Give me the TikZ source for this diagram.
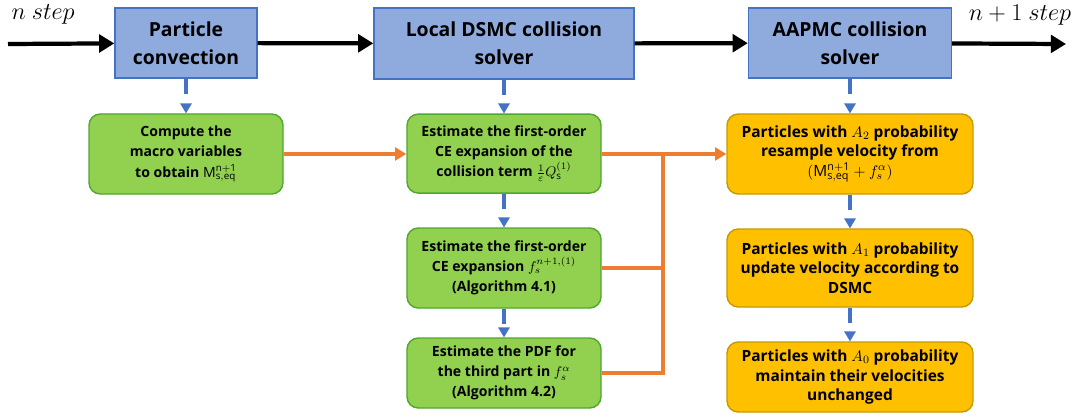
\documentclass[tikz,border=0pt]{standalone}
\usepackage{fontspec}
\setmainfont{Open Sans}
\usetikzlibrary{arrows.meta}
\definecolor{boxblue}{HTML}{8FAADC}
\definecolor{lineblue}{HTML}{4472C4}
\definecolor{boxgreen}{HTML}{92D050}
\definecolor{edgegreen}{HTML}{4EA72E}
\definecolor{boxgold}{HTML}{FFC000}
\definecolor{edgegold}{HTML}{C49A00}
\definecolor{lineorange}{HTML}{ED7D31}
\begin{document}
\begin{tikzpicture}[
    solverbox/.style={draw=lineblue,fill=boxblue,line width=1pt,align=center,inner sep=1pt,
      font=\fontsize{13.8}{20}\selectfont\bfseries},
    greenbox/.style={draw=edgegreen,fill=boxgreen,line width=1pt,rounded corners=0.28cm,align=center,
      inner sep=1pt,minimum width=4.85cm,font=\fontsize{10}{14.4}\selectfont\bfseries},
    goldbox/.style={draw=edgegold,fill=boxgold,line width=1pt,rounded corners=0.28cm,align=center,
      inner sep=1pt,minimum width=6.15cm,font=\fontsize{11}{13.8}\selectfont\bfseries},
    mainarrow/.style={line width=3pt,-{Triangle[length=0.38cm,width=0.44cm]}},
    dasharrow/.style={draw=lineblue,line width=2.6pt,dash pattern=on 0.38cm off 1cm,
      -{Triangle[length=0.25cm,width=0.3cm,line width=0pt]}},
    feedline/.style={draw=lineorange,line width=2.4pt},
    feedarrow/.style={feedline,-{Triangle[length=0.28cm,width=0.32cm]}}
  ]
  \useasboundingbox (0,0) rectangle (27.025,-10.425);

  \node[inner sep=0pt] (nlabel) at (1.08,-0.36) {\fontsize{16.5}{19}\selectfont $n\ step$};
  \node[inner sep=0pt] (nnlabel) at (25.5,-0.38) {\fontsize{16.5}{19}\selectfont $n+1\ step$};
  \coordinate (start) at (0.2,-1.1);
  \coordinate (finish) at (26.65,-1.1);

  \node[solverbox,minimum width=3.55cm,minimum height=1.75cm] (conv) at (4.65,-1.075) {Particle\\convection};
  \node[greenbox,minimum height=2cm] (macro) at (4.65,-3.85)
    {Compute the\\macro variables\\to obtain $\mathrm{M}_{\mathrm{s,eq}}^{\mathrm{n+1}}$};

  \node[solverbox,minimum width=6.5cm,minimum height=1.775cm] (dsmc) at (12.6,-1.09) {Local DSMC collision\\solver};
  \node[greenbox,minimum height=1.975cm] (est1) at (12.6,-3.84)
    {Estimate the first-order\\CE expansion of the\\collision term $\frac{1}{\varepsilon}Q_{\mathrm{s}}^{(1)}$};
  \node[greenbox,minimum height=2cm] (est2) at (12.6,-6.7)
    {Estimate the first-order\\CE expansion $f_s^{n+1,(1)}$\\(Algorithm 4.1)};
  \node[greenbox,minimum height=1.75cm] (est3) at (12.6,-9.325)
    {Estimate the PDF for\\the third part in $f_s^{\alpha}$\\(Algorithm 4.2)};

  \node[solverbox,minimum width=5.075cm,minimum height=1.75cm] (aapmc) at (21.25,-1.075) {AAPMC collision\\solver};
  \node[goldbox,minimum height=2cm] (pa) at (21.25,-3.85)
    {Particles with $A_2$ probability\\resample velocity from\\$(\mathrm{M}_{\mathrm{s,eq}}^{\mathrm{n+1}}+f_s^{\alpha})$};
  \node[goldbox,minimum height=1.95cm] (pb) at (21.25,-6.7)
    {Particles with $A_1$ probability\\update velocity according to\\DSMC};
  \node[goldbox,minimum height=1.75cm] (pc) at (21.25,-9.425)
    {Particles with $A_0$ probability\\maintain their velocities\\unchanged};

  \draw[mainarrow] (start) -- (conv);
  \draw[mainarrow] (conv) -- (dsmc);
  \draw[mainarrow] (dsmc) -- (aapmc);
  \draw[mainarrow] (aapmc) -- (finish);

  \draw[dasharrow] (conv) -- (macro);
  \draw[dasharrow] (dsmc) -- (est1);
  \draw[dasharrow] (est1) -- (est2);
  \draw[dasharrow] (est2) -- (est3);
  \draw[dasharrow] (aapmc) -- (pa);
  \draw[dasharrow] (pa) -- (pb);
  \draw[dasharrow] (pb) -- (pc);

  \coordinate (joint) at (16.575,-3.85);
  \draw[feedarrow] (macro) -- (est1.west |- macro);
  \draw[feedarrow] (est1.east |- joint) -- (pa.west |- joint);
  \draw[feedline] (est2.east) -- (est2.east -| joint);
  \draw[feedline] (est3.east) -| (joint);
\end{tikzpicture}
\end{document}
